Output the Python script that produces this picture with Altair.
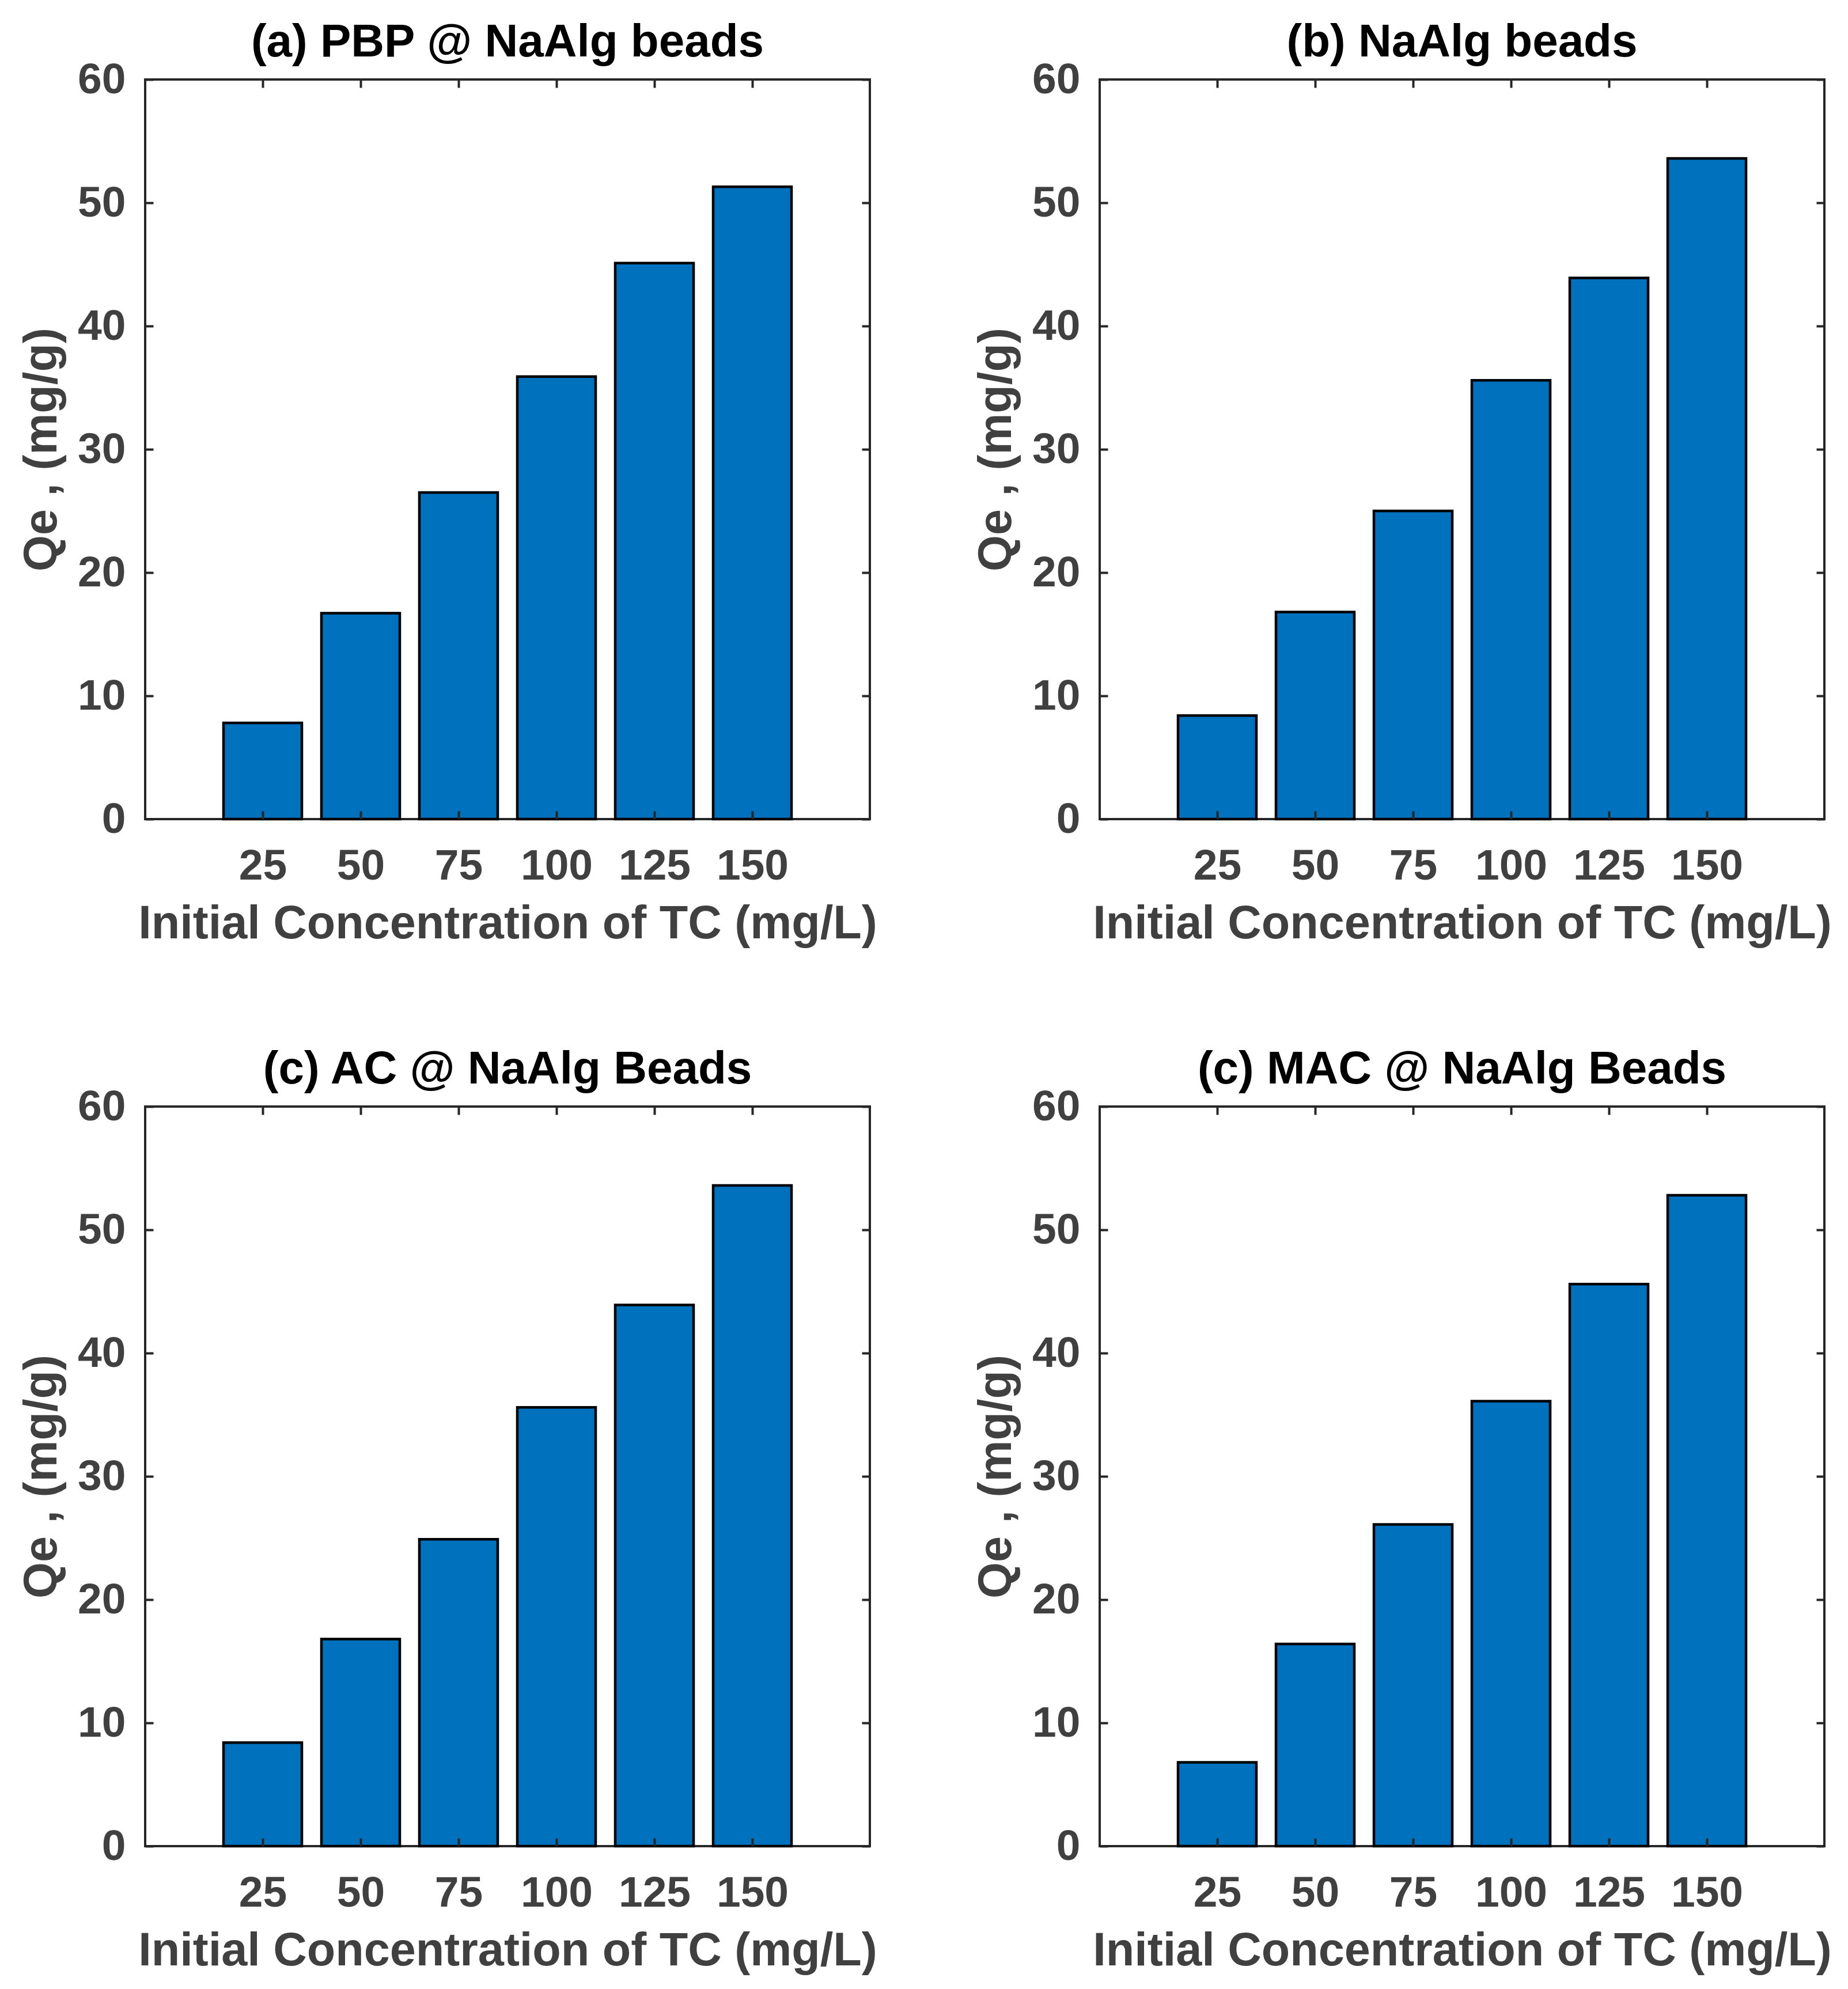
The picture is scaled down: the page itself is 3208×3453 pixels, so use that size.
import altair as alt
import pandas as pd

# ---- data ----
conc = [25, 50, 75, 100, 125, 150]
qe_pbp = [7.8, 16.7, 26.5, 35.9, 45.1, 51.3]
qe_naalg = [8.4, 16.8, 25.0, 35.6, 43.9, 53.6]
qe_ac = [8.4, 16.8, 24.9, 35.6, 43.9, 53.6]
qe_mac = [6.8, 16.4, 26.1, 36.1, 45.6, 52.8]
titles = ["(a) PBP @ NaAlg beads", "(b) NaAlg beads",
          "(c) AC @ NaAlg Beads", "(c) MAC @ NaAlg Beads"]
y_ticks = [0, 10, 20, 30, 40, 50, 60]
x_title = "Initial Concentration of TC (mg/L)"
y_title = "Qe , (mg/g)"

# ---- style ----
W, H = 1258, 1284
FONT = "Liberation Sans"
BLUE = "#0072BD"
AX = "#262626"
LBL = "#404040"
HALF_BAR = 10

xs = alt.Scale(domain=[-5, 180], nice=False, zero=False)
ys = alt.Scale(domain=[0, 60], nice=False, zero=False)


def tick_axis(orient, values):
    off = -W if orient in ("left", "right") else -H
    return alt.Axis(orient=orient, offset=off, values=values, labels=False,
                    domain=False, ticks=True, tickSize=14, tickWidth=4,
                    tickColor=AX, title=None, grid=False, zindex=1)


def panel(vals, title):
    df = pd.DataFrame({"c": conc, "q": vals})
    base = alt.Chart(df).transform_calculate(
        x0=f"datum.c - {HALF_BAR}", x1=f"datum.c + {HALF_BAR}")

    bars = base.mark_rect(color=BLUE, stroke="black", strokeWidth=4.5).encode(
        x=alt.X("x0:Q", scale=xs, axis=alt.Axis(
            orient="bottom", values=conc, labelFlush=False,
            labelFont=FONT, labelFontSize=75, labelFontWeight="bold",
            labelColor=LBL, labelPadding=45, ticks=False, tickSize=0,
            domain=False, grid=False, title=x_title, titleFont=FONT,
            titleFontSize=81, titleFontWeight="bold", titleColor=LBL,
            titleX=W / 2, titleY=206, titleBaseline="alphabetic",
            titleAlign="center")),
        x2="x1:Q",
        y=alt.Y("q:Q", scale=ys, axis=alt.Axis(
            orient="left", values=y_ticks, labelFont=FONT, labelFontSize=75,
            labelFontWeight="bold", labelColor=LBL, labelPadding=34,
            ticks=False, tickSize=0, domain=False, grid=False,
            title=y_title, titleFont=FONT, titleFontSize=81,
            titleFontWeight="bold", titleColor=LBL, titleAngle=270,
            titleX=-155, titleY=H / 2, titleBaseline="alphabetic",
            titleAlign="center")),
        y2=alt.datum(0),
    )

    t1 = base.mark_point(opacity=0).encode(
        x=alt.X("c:Q", scale=xs, axis=tick_axis("top", conc)),
        y=alt.Y("q:Q", scale=ys, axis=tick_axis("right", y_ticks)),
    )
    t2 = base.mark_point(opacity=0).encode(
        x=alt.X("c:Q", scale=xs, axis=tick_axis("bottom", conc)),
        y=alt.Y("q:Q", scale=ys, axis=tick_axis("left", y_ticks)),
    )

    return alt.layer(bars, t1, t2).resolve_axis(
        x="independent", y="independent"
    ).properties(
        width=W, height=H,
        title=alt.Title(title, font=FONT, fontSize=80, fontWeight="bold",
                        color="black", anchor="middle", frame="group",
                        baseline="alphabetic", offset=1, dy=78),
    )


chart = alt.concat(
    panel(qe_pbp, titles[0]), panel(qe_naalg, titles[1]),
    panel(qe_ac, titles[2]), panel(qe_mac, titles[3]),
    columns=2, spacing={"row": 499, "column": 399}, bounds="flush",
).properties(
    padding={"left": 22, "top": 24, "right": 0, "bottom": 0},
    background="white",
).configure_view(stroke=AX, strokeWidth=4)

chart.save("out.html", embed_options={"renderer": "svg", "actions": False})
